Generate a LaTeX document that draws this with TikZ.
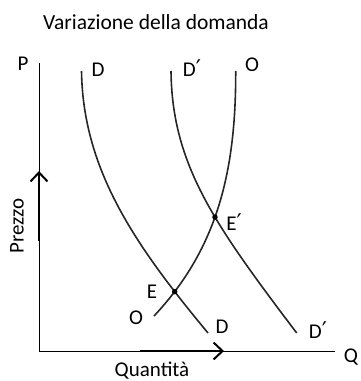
\documentclass[tikz,border=0pt]{standalone}
\usepackage{fontspec}
\setmainfont{Carlito}
\newfontfamily\primefont{DejaVu Sans}
\newcommand{\prm}{{\primefont\fontsize{23}{24}\selectfont ′}}
\usetikzlibrary{arrows.meta,intersections}
\begin{document}
\begin{tikzpicture}[x=1pt,y=-1pt,
  lbl/.style={font=\fontsize{21}{23}\selectfont, inner sep=0pt},
  curve/.style={line width=1.6pt, black!85},
  axis/.style={line width=0.9pt},
  bigarrow/.style={line width=2pt, -{Straight Barb[length=9pt,width=17pt,line width=2pt]}},
  dot/.style={circle, fill=black, inner sep=0pt, minimum size=5.5pt}]
\useasboundingbox (0,0) rectangle (360,381);
% title
\node[lbl, font=\fontsize{21.5}{23}\selectfont] (title) at (156,22) {Variazione della domanda};
% axes
\coordinate (orig) at (39,351);
\coordinate (ytop) at (39,63);
\coordinate (xend) at (335,351);
\draw[axis] (ytop) -- (orig) -- (xend);
\node[lbl] (P) at (23,64) {P};
\node[lbl] (Q) at (351,357) {Q};
\node[lbl, rotate=90] (prezzo) at (17,226) {Prezzo};
\node[lbl] (quant) at (152,371) {Quantità};
% big arrows
\coordinate (ua0) at (39,241);
\coordinate (ua1) at (39,171);
\draw[bigarrow] (ua0) -- (ua1);
\coordinate (ra0) at (140,351);
\coordinate (ra1) at (224,351);
\draw[bigarrow] (ra0) -- (ra1);
% curves
\coordinate (d0) at (81.5,71);   \coordinate (d1) at (208,333);
\coordinate (dp0) at (171,71);   \coordinate (dp1) at (296.7,333);
\coordinate (o0) at (235.7,71);  \coordinate (o1) at (154,316);
\draw[curve, name path=D] (d0) .. controls (83,170) and (135,245) .. (d1);
\draw[curve, name path=Dp] (dp0) .. controls (172,165) and (215,225) .. (dp1);
\draw[curve, name path=O] (o0) .. controls (236,170) and (218,248) .. (o1);
% equilibria
\path[name intersections={of=D and O, by=Ept}];
\path[name intersections={of=Dp and O, by=Eppt}];
\node[dot] (E) at (Ept) {};
\node[dot] (Ep) at (Eppt) {};
% labels
\node[lbl] (Dtop) at (98,70) {D};
\node[lbl] (Dptop) at (192,68) {D\prm};
\node[lbl] (Otop) at (252,65) {O};
\node[lbl] (Eplab) at (234,222) {E\prm};
\node[lbl] (Elab) at (152,292) {E};
\node[lbl] (Obot) at (136,318) {O};
\node[lbl] (Dbot) at (222,327) {D};
\node[lbl] (Dpbot) at (318,330) {D\prm};
\end{tikzpicture}
\end{document}
